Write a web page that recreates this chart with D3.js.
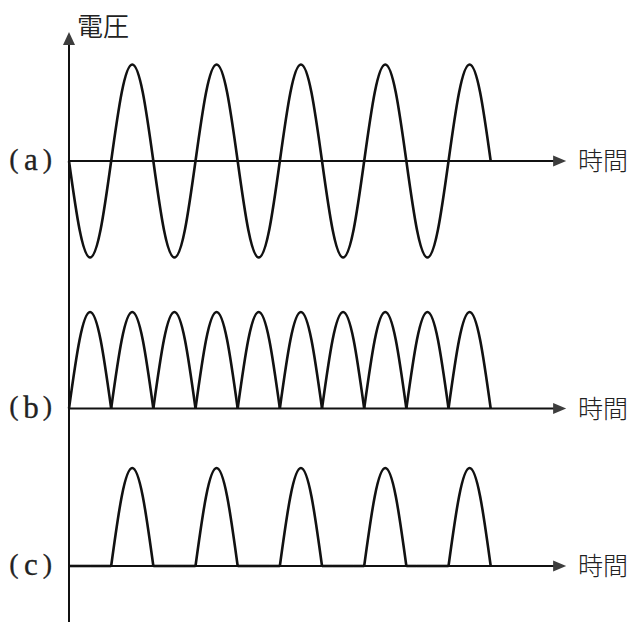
<!DOCTYPE html>
<html>
<head>
<meta charset="utf-8">
<script src="https://cdn.jsdelivr.net/npm/d3@7"></script>
<style>
  html, body { margin: 0; padding: 0; background: #fff; }
  svg { display: block; }
</style>
</head>
<body>
<svg id="chart" width="636" height="622"></svg>
<script>
// ---- data ----
// time in half-periods, sampled every quarter of a half-period
const timeSteps = [0,0.25,0.5,0.75,1,1.25,1.5,1.75,2,2.25,2.5,2.75,3,3.25,3.5,3.75,4,4.25,4.5,4.75,5,5.25,5.5,5.75,6,6.25,6.5,6.75,7,7.25,7.5,7.75,8,8.25,8.5,8.75,9,9.25,9.5,9.75,10];
// (a) alternating voltage
const seriesA = [0,-0.71,-1,-0.71,0,0.71,1,0.71,0,-0.71,-1,-0.71,0,0.71,1,0.71,0,-0.71,-1,-0.71,0,0.71,1,0.71,0,-0.71,-1,-0.71,0,0.71,1,0.71,0,-0.71,-1,-0.71,0,0.71,1,0.71,0];
// (b) full-wave rectified
const seriesB = [0,0.71,1,0.71,0,0.71,1,0.71,0,0.71,1,0.71,0,0.71,1,0.71,0,0.71,1,0.71,0,0.71,1,0.71,0,0.71,1,0.71,0,0.71,1,0.71,0,0.71,1,0.71,0,0.71,1,0.71,0];
// (c) half-wave rectified
const seriesC = [0,0,0,0,0,0.71,1,0.71,0,0,0,0,0,0.71,1,0.71,0,0,0,0,0,0.71,1,0.71,0,0,0,0,0,0.71,1,0.71,0,0,0,0,0,0.71,1,0.71,0];
const panelLabels = ["(a)", "(b)", "(c)"];
const yAxisLabel = "電圧";
const xAxisLabel = "時間";

// ---- layout ----
const svg = d3.select("#chart");
const timeAxisEnd = 11.79;   // arrow tip, in time units
const timeArrowLen = 0.31;   // arrowhead length, in time units
const x = d3.scaleLinear().domain([0, 10]).range([69, 490.7]);
const panels = [
  { label: panelLabels[0], data: seriesA, center: 161, amp: 96.5, whole: true },
  { label: panelLabels[1], data: seriesB, center: 408.5, amp: 96.5, whole: false },
  { label: panelLabels[2], data: seriesC, center: 566, amp: 98, whole: false }
];
const ink = "#111";
const arrowInk = "#3d3d3d";

// vertical axis
const x0 = x(0);
svg.append("line")
  .attr("x1", x0).attr("x2", x0)
  .attr("y1", 622).attr("y2", 42)
  .attr("stroke", ink).attr("stroke-width", 2);
svg.append("path")
  .attr("d", `M${x0},32 L${x0-6},45 L${x0+6},45 Z`)
  .attr("fill", arrowInk);
svg.append("text")
  .attr("x", 77).attr("y", 24)
  .attr("dominant-baseline", "central")
  .attr("font-family", "'Noto Sans CJK JP', sans-serif")
  .attr("font-size", 26)
  .attr("font-weight", 350)
  .attr("fill", "#222")
  .text(yAxisLabel);

const labelCharX = [14, 31, 47.5];
const labelCharSize = [28, 31, 28];
const labelCharDy = [6.5, 9, 6.5];

panels.forEach(p => {
  const y = d3.scaleLinear().domain([-1, 1]).range([p.center + p.amp, p.center - p.amp]);
  const g = svg.append("g");

  // horizontal axis
  const tip = x(timeAxisEnd), base = x(timeAxisEnd - timeArrowLen);
  g.append("line")
    .attr("x1", x0).attr("x2", base + 1)
    .attr("y1", y(0)).attr("y2", y(0))
    .attr("stroke", ink).attr("stroke-width", 1.8);
  g.append("path")
    .attr("d", `M${tip},${y(0)} L${base},${y(0)-5.5} L${base},${y(0)+5.5} Z`)
    .attr("fill", arrowInk);
  g.append("text")
    .attr("x", 578).attr("y", y(0) - 2)
    .attr("dominant-baseline", "central")
    .attr("font-family", "'Noto Sans CJK JP', sans-serif")
    .attr("font-size", 25)
    .attr("font-weight", 300)
    .attr("fill", "#222")
    .text(xAxisLabel);

  // panel label
  const lab = g.append("text")
    .attr("font-family", "'Liberation Serif', serif")
    .attr("fill", "#222")
    .attr("stroke", "#222")
    .attr("stroke-width", 0.3)
    .attr("text-anchor", "middle");
  lab.selectAll("tspan").data(p.label.split("")).join("tspan")
    .attr("x", (d, i) => labelCharX[i])
    .attr("y", (d, i) => y(0) + labelCharDy[i])
    .attr("font-size", (d, i) => labelCharSize[i])
    .text(d => d);

  // waveform
  const pts = timeSteps.map((t, i) => [t, p.data[i]]);
  const line = d3.line().x(d => x(d[0])).y(d => y(d[1])).curve(d3.curveNatural);
  let segments;
  if (p.whole) {
    segments = [pts];
  } else {
    // split at zero points (cusps / flat parts)
    segments = [];
    let cur = [pts[0]];
    for (let i = 1; i < pts.length; i++) {
      cur.push(pts[i]);
      if (pts[i][1] === 0) { segments.push(cur); cur = [pts[i]]; }
    }
  }
  g.selectAll("path.wave").data(segments).join("path")
    .attr("class", "wave")
    .attr("d", line)
    .attr("fill", "none")
    .attr("stroke", ink)
    .attr("stroke-width", 2.6)
    .attr("stroke-linejoin", "round");
});
</script>
</body>
</html>
